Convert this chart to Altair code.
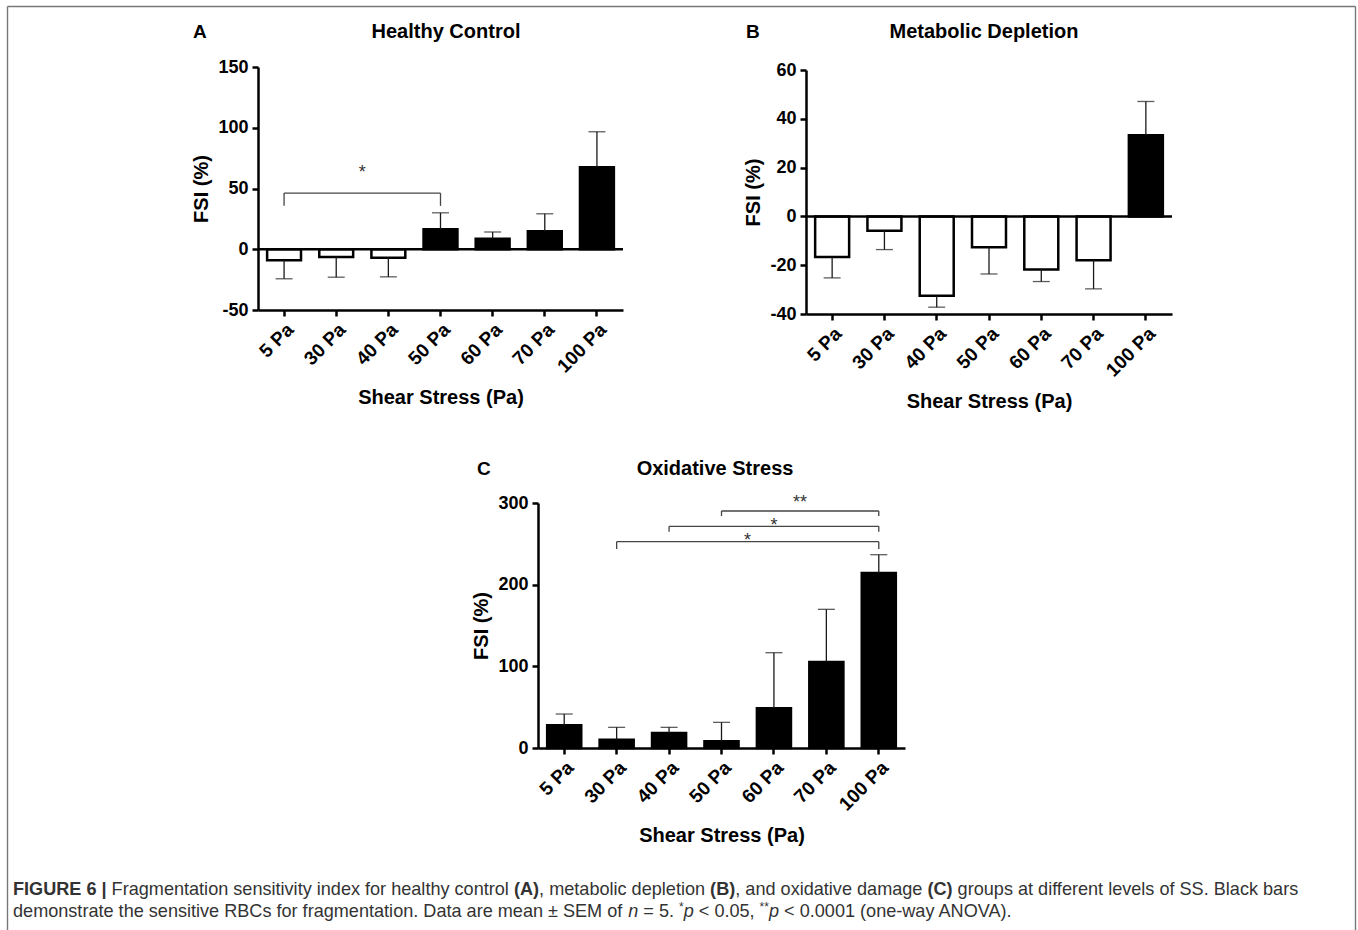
import altair as alt
import numpy as np
import pandas as pd

# ---------------- data ----------------
categories = ["5 Pa", "30 Pa", "40 Pa", "50 Pa", "60 Pa", "70 Pa", "100 Pa"]

healthy_mean = [-9.0, -6.3, -7.0, 16.4, 8.7, 14.8, 67.5]
healthy_sem = [15.3, 16.7, 15.7, 13.6, 5.5, 14.4, 29.2]

metabolic_mean = [-16.6, -5.9, -32.5, -12.6, -21.8, -18.0, 33.3]
metabolic_sem = [8.6, 7.7, 4.7, 11.0, 4.9, 11.7, 13.8]

oxidative_mean = [27.8, 10.2, 18.4, 8.2, 48.6, 105.3, 214.3]
oxidative_sem = [13.8, 15.1, 6.9, 23.2, 68.1, 64.5, 22.4]

healthy_ticks = [-50, 0, 50, 100, 150]
metabolic_ticks = [-40, -20, 0, 20, 40, 60]
oxidative_ticks = [0, 100, 200, 300]

# significance brackets: from, to, bracket level, end-drop level
healthy_br_from = ["5 Pa"]
healthy_br_to = ["50 Pa"]
healthy_br_level = [46.2]
healthy_br_drop = [35.7]

oxidative_br_from = ["50 Pa", "40 Pa", "30 Pa"]
oxidative_br_to = ["100 Pa", "100 Pa", "100 Pa"]
oxidative_br_level = [290.2, 271.4, 252.6]
oxidative_br_drop = [284.0, 264.9, 243.7]

# star labels: text, category near midpoint, half-step shift?, y value (baseline)
healthy_star_text = ["*"]
healthy_star_cat = ["30 Pa"]
healthy_star_half = [True]
healthy_star_y = [59.0]

oxidative_star_text = ["**", "*", "*"]
oxidative_star_cat = ["60 Pa", "60 Pa", "50 Pa"]
oxidative_star_half = [True, False, True]
oxidative_star_y = [294.4, 266.2, 247.8]

# ---------------- layout ----------------
W, H = 1358, 930
FONT = "Liberation Sans"
INK = "#1a1a1a"
HALF_STEP = 26

A_X, A_Y = [258, 623], [310, 67]
B_X, B_Y = [806, 1172], [314, 70]
C_X, C_Y = [538, 905], [748, 503]


def one():
    return pd.DataFrame({"k": [0]})


def text(t, x, y, size, weight="normal", align="left", color="black",
         font=FONT, style="normal"):
    return alt.Chart(one()).mark_text(
        text=t, font=font, fontSize=size, fontWeight=weight, fontStyle=style,
        align=align, baseline="alphabetic", color=color,
    ).encode(x=alt.value(x), y=alt.value(y))


def panel(mean, sem, domain, ticks, xr, yr, zero_line,
          br_from, br_to, br_level, br_drop,
          st_text, st_cat, st_half, st_y):
    df = pd.DataFrame({"cat": categories, "mean": mean, "sem": sem})
    df["end"] = df["mean"] + np.sign(df["mean"]) * df["sem"]
    df["fill"] = np.where(df["mean"] > 0, "black", "white")

    def xs():
        return alt.Scale(domain=categories, range=xr, paddingInner=0.35,
                         paddingOuter=0.175)

    def ys():
        return alt.Scale(domain=domain, range=yr, nice=False)

    xa = alt.Axis(title="Shear Stress (Pa)", orient="bottom", offset=yr[0] - H,
                  labelAngle=-45, labelPadding=4, titlePadding=11.5, labelFontSize=19)
    ya = alt.Axis(title="FSI (%)", orient="left", offset=-xr[0], values=ticks,
                  labelExpr="'' + datum.value", labelPadding=4, titlePadding=6)

    base = alt.Chart(df)
    layers = []
    layers.append(base.mark_bar(stroke="black", strokeWidth=2.5).encode(
        x=alt.X("cat:N", scale=xs(), axis=xa),
        y=alt.Y("mean:Q", scale=ys(), axis=ya),
        y2=alt.Y2Datum(0),
        fill=alt.Fill("fill:N", scale=None),
    ))
    layers.append(base.mark_rule(color=INK, strokeWidth=1.3).encode(
        x=alt.X("cat:N", scale=xs(), axis=None),
        y=alt.Y("mean:Q", scale=ys(), axis=None),
        y2=alt.Y2("end"),
    ))
    layers.append(base.mark_tick(orient="horizontal", size=17, thickness=1.3,
                                 color=INK).encode(
        x=alt.X("cat:N", scale=xs(), axis=None),
        y=alt.Y("end:Q", scale=ys(), axis=None),
    ))
    if zero_line:
        layers.append(alt.Chart(one()).mark_rule(color="black", strokeWidth=2.5).encode(
            y=alt.YDatum(0, scale=ys(), axis=None),
            x=alt.value(xr[0]), x2=alt.value(xr[1]),
        ))
    if br_from:
        bdf = pd.DataFrame({"from": br_from, "to": br_to,
                            "level": br_level, "drop": br_drop})
        bb = alt.Chart(bdf)
        layers.append(bb.mark_rule(color="#444444", strokeWidth=1.3).encode(
            x=alt.X("from:N", scale=xs(), axis=None), x2=alt.X2("to"),
            y=alt.Y("level:Q", scale=ys(), axis=None),
        ))
        for end in ["from", "to"]:
            layers.append(bb.mark_rule(color="#444444", strokeWidth=1.3).encode(
                x=alt.X(f"{end}:N", scale=xs(), axis=None),
                y=alt.Y("level:Q", scale=ys(), axis=None), y2=alt.Y2("drop"),
            ))
    for t, c, half, yv in zip(st_text, st_cat, st_half, st_y):
        sdf = pd.DataFrame({"cat": [c], "y": [yv], "t": [t]})
        layers.append(alt.Chart(sdf).mark_text(
            font=FONT, fontSize=18, color="#333333", align="center",
            baseline="alphabetic", dx=HALF_STEP if half else 0,
        ).encode(
            x=alt.X("cat:N", scale=xs(), axis=None),
            y=alt.Y("y:Q", scale=ys(), axis=None),
            text="t:N",
        ))
    return layers


layers = []
layers += panel(healthy_mean, healthy_sem, [-50, 150], healthy_ticks, A_X, A_Y, True,
                healthy_br_from, healthy_br_to, healthy_br_level, healthy_br_drop,
                healthy_star_text, healthy_star_cat, healthy_star_half, healthy_star_y)
layers += panel(metabolic_mean, metabolic_sem, [-40, 60], metabolic_ticks, B_X, B_Y, True,
                [], [], [], [], [], [], [], [])
layers += panel(oxidative_mean, oxidative_sem, [0, 300], oxidative_ticks, C_X, C_Y, False,
                oxidative_br_from, oxidative_br_to, oxidative_br_level, oxidative_br_drop,
                oxidative_star_text, oxidative_star_cat, oxidative_star_half, oxidative_star_y)

# panel letters and titles
layers += [
    text("A", 193, 38, 19, "bold"),
    text("Healthy Control", 446, 38, 20, "bold", "center"),
    text("B", 746, 38, 19, "bold"),
    text("Metabolic Depletion", 984, 38, 20, "bold", "center"),
    text("C", 477, 475, 19, "bold"),
    text("Oxidative Stress", 715, 475, 20, "bold", "center"),
]

# figure border (open at the bottom)
BORDER = "#777777"
layers += [
    alt.Chart(one()).mark_rule(color=BORDER, strokeWidth=1.4).encode(
        x=alt.value(7.5), y=alt.value(6.5), y2=alt.value(H)),
    alt.Chart(one()).mark_rule(color=BORDER, strokeWidth=1.4).encode(
        x=alt.value(7.5), x2=alt.value(1355.5), y=alt.value(6.5)),
    alt.Chart(one()).mark_rule(color=BORDER, strokeWidth=1.4).encode(
        x=alt.value(1355.5), y=alt.value(6.5), y2=alt.value(H)),
]

# ---------------- caption (mixed styles laid out with Helvetica/Arial metrics) -------
REG = {" ": 278, "(": 333, ")": 333, ",": 278, "-": 333, ".": 278, "<": 584,
       "=": 584, "*": 389, "|": 260, "\u00b1": 584,
       "A": 667, "B": 667, "C": 722, "D": 722, "E": 667, "F": 611, "G": 778,
       "I": 278, "M": 833, "N": 722, "O": 778, "R": 722, "S": 667, "V": 667,
       "a": 556, "b": 556, "c": 500, "d": 556, "e": 556, "f": 278, "g": 556,
       "h": 556, "i": 222, "k": 500, "l": 222, "m": 833, "n": 556, "o": 556,
       "p": 556, "r": 333, "s": 500, "t": 278, "u": 556, "v": 500, "w": 722,
       "x": 500, "y": 500}
BOLD = {" ": 278, "(": 333, ")": 333, "|": 280, "A": 722, "B": 722, "C": 722,
        "E": 667, "F": 611, "G": 778, "I": 278, "R": 722, "U": 722}


def tw(s, bold, size):
    table = BOLD if bold else REG
    return sum(table.get(ch, REG.get(ch, 556)) for ch in s) * size / 1000.0


CAP = "#333333"
CS = 18.1
SUP = 12
L1, L2 = 895, 917
# (text, bold, italic, superscript)
caption_line1 = [
    ("FIGURE 6 | ", True, False, False),
    ("Fragmentation sensitivity index for healthy control ", False, False, False),
    ("(A)", True, False, False),
    (", metabolic depletion ", False, False, False),
    ("(B)", True, False, False),
    (", and oxidative damage ", False, False, False),
    ("(C)", True, False, False),
    (" groups at different levels of SS. Black bars", False, False, False),
]
caption_line2 = [
    ("demonstrate the sensitive RBCs for fragmentation. Data are mean \u00b1 SEM of ", False, False, False),
    ("n", False, True, False),
    (" = 5. ", False, False, False),
    ("*", False, False, True),
    ("p", False, True, False),
    (" < 0.05, ", False, False, False),
    ("**", False, False, True),
    ("p", False, True, False),
    (" < 0.0001 (one-way ANOVA).", False, False, False),
]
for line, base_y in [(caption_line1, L1), (caption_line2, L2)]:
    cursor = 13.0
    for seg, bold, italic, sup in line:
        size = SUP if sup else CS
        lead = len(seg) - len(seg.lstrip(" "))
        shown = seg.strip(" ")
        x = cursor + tw(" " * lead, bold, size)
        y = base_y - 6 if sup else base_y
        layers.append(text(shown, round(x, 1), y, size, "bold" if bold else "normal",
                           "left", CAP, FONT, "italic" if italic else "normal"))
        cursor += tw(seg, bold, size)

chart = alt.layer(*layers).resolve_scale(
    x="independent", y="independent"
).properties(
    width=W, height=H, padding=0,
    autosize=alt.AutoSizeParams(type="none"),
    background="white",
).configure_view(stroke=None).configure_axis(
    domainColor="black", domainWidth=2.5, tickColor="black", tickWidth=2.5,
    tickSize=6, labelFont=FONT, labelFontSize=18, labelFontWeight="bold",
    labelColor="black", titleFont=FONT, titleFontSize=20, titleFontWeight="bold",
    titleColor="black", grid=False,
)

chart.save("out.html", embed_options={"renderer": "svg", "actions": False})
